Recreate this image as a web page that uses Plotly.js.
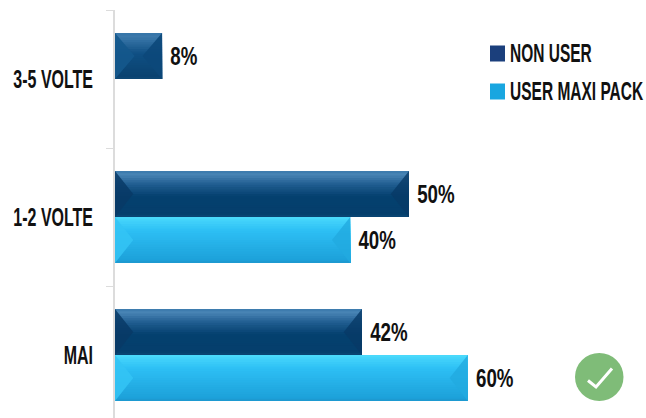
<!DOCTYPE html>
<html>
<head>
<meta charset="utf-8">
<script src="https://cdn.plot.ly/plotly-3.0.1.min.js"></script>
<style>html,body{margin:0;padding:0;background:#fff}#chart{width:646px;height:418px}</style>
</head>
<body>
<div id="chart"></div>
<script>
const categories = ['MAI', '1-2 VOLTE', '3-5 VOLTE'];
const nonUser = [42, 50, 8];
const userMaxiPack = [60, 40, null];
const seriesNames = ['NON USER', 'USER MAXI PACK'];

const W = 646, H = 418;
const M = {l: 115, r: 0, t: 10, b: 0};
const LABEL_FONT = {family: '"Liberation Sans", Arial, sans-serif', size: 25, weight: 700, color: '#111111'};
const VALUE_FONT = {family: '"Liberation Sans", Arial, sans-serif', size: 26, weight: 700, color: '#111111'};
// Horizontal squeezes that give the bold labels their condensed look
const SQUEEZE_AXIS = 0.64, SQUEEZE_LEGEND = 0.62, SQUEEZE_VALUE = 0.72;

// Pixel position to plot-area fraction, for the legend and the badge
const px = x => (x - M.l) / (W - M.l - M.r);
const py = y => 1 - (y - M.t) / (H - M.t - M.b);

const hexToRgb = h => [1, 3, 5].map(i => parseInt(h.slice(i, i + 2), 16));
function ramp(stops, t) {
  for (let i = 1; i < stops.length; i++) {
    if (t <= stops[i][0]) {
      const f = (t - stops[i - 1][0]) / (stops[i][0] - stops[i - 1][0]);
      const a = hexToRgb(stops[i - 1][1]), b = hexToRgb(stops[i][1]);
      return 'rgb(' + a.map((v, k) => Math.round(v + (b[k] - v) * f)).join(',') + ')';
    }
  }
  return stops[stops.length - 1][1];
}

const darkBevel = {
  stops: [[0, '#2f6fa3'], [0.05, '#4c88b8'], [0.3, '#1f5c8f'], [0.55, '#04406f'], [0.97, '#053f6c'], [1, '#1c5e8e']],
  left: 'rgba(8,58,102,0.85)', right: 'rgba(8,58,102,0.8)'
};
const compactBevel = {
  stops: [[0, '#2f6fa3'], [0.05, '#3f7cae'], [0.45, '#0f4f83'], [0.97, '#0a416e'], [1, '#1c5e8e']],
  left: 'rgba(20,88,140,0.9)', right: 'rgba(12,72,122,0.9)'
};
const lightBevel = {
  stops: [[0, '#4fdcfb'], [0.05, '#45d5fb'], [0.3, '#2dbff4'], [0.97, '#1c9fd8'], [1, '#1f7fae']],
  left: 'rgba(52,196,245,0.85)', right: 'rgba(34,170,224,0.8)'
};

// Bevelled face of one bar, built from its value and category slot in axis units
function bevelShapes(value, catIndex, slot, look) {
  if (value === null) return [];
  const barH = 1 / 3;
  const top = catIndex + (slot === 'upper' ? barH : 0);
  const bottom = top - barH;
  const mid = (top + bottom) / 2;
  const depth = value < 10 ? value / 2.4 : 3.1;
  const out = [];
  const bands = 20;
  for (let i = 0; i < bands; i++) {
    out.push({
      type: 'rect', xref: 'x', yref: 'y', layer: 'above',
      x0: 0, x1: value, y0: top - (top - bottom) * i / bands, y1: bottom,
      fillcolor: ramp(look.stops, (i + 0.5) / bands), line: {width: 0}
    });
  }
  const poly = (pts, fill) => ({
    type: 'path', xref: 'x', yref: 'y', layer: 'above', fillcolor: fill, line: {width: 0},
    path: 'M' + pts.map(p => p[0] + ',' + p[1]).join('L') + 'Z'
  });
  out.push(poly([[0, top], [depth, mid], [0, bottom]], look.left));
  out.push(poly([[value, top], [value - depth, mid], [value, bottom]], look.right));
  return out;
}

const shapes = [];
categories.forEach((c, i) => {
  shapes.push(...bevelShapes(nonUser[i], i, 'upper', nonUser[i] < 10 ? compactBevel : darkBevel));
  shapes.push(...bevelShapes(userMaxiPack[i], i, 'lower', lightBevel));
});

// Legend swatches
const legendColors = ['#1b3f7c', '#19a6e0'];
const legendRows = [53.5, 91.5];
legendRows.forEach((y, i) => {
  shapes.push({type: 'rect', xref: 'paper', yref: 'paper', x0: px(490), x1: px(505), y0: py(y - 8), y1: py(y + 8),
    fillcolor: legendColors[i], line: {width: 0}});
});

// Green check badge
shapes.push({type: 'circle', xref: 'paper', yref: 'paper', x0: px(575), x1: px(623.5), y0: py(353), y1: py(401),
  fillcolor: '#7fbc78', line: {width: 0}});
shapes.push({type: 'path', xref: 'paper', yref: 'paper', fillcolor: 'rgba(0,0,0,0)',
  line: {color: '#ffffff', width: 3},
  path: 'M' + px(588) + ',' + py(380.5) + 'L' + px(596) + ',' + py(387) + 'L' + px(612) + ',' + py(368.5)});

const annotations = seriesNames.map((name, i) => ({
  xref: 'paper', yref: 'paper', x: px(510), y: py(legendRows[i]), xanchor: 'left', yanchor: 'middle',
  xshift: -2, text: name, showarrow: false, font: LABEL_FONT
}));

const pct = v => v === null ? '' : '\u00a0' + v + '%';
const traces = [
  {type: 'bar', orientation: 'h', name: seriesNames[1], y: categories, x: userMaxiPack, marker: {color: legendColors[1]},
   text: userMaxiPack.map(pct), textposition: 'outside', textfont: VALUE_FONT, cliponaxis: false, hoverinfo: 'skip'},
  {type: 'bar', orientation: 'h', name: seriesNames[0], y: categories, x: nonUser, marker: {color: legendColors[0]},
   text: nonUser.map(pct), textposition: 'outside', textfont: VALUE_FONT, cliponaxis: false, hoverinfo: 'skip'}
];

const layout = {
  width: W, height: H, margin: M, paper_bgcolor: '#fff', plot_bgcolor: '#fff',
  barmode: 'group', bargap: 1 / 3, bargroupgap: 0, showlegend: false,
  xaxis: {range: [0, (W - M.l) / 5.88], visible: false, fixedrange: true},
  yaxis: {
    type: 'category', categoryorder: 'array', categoryarray: categories,
    range: [-0.4565, 2.5], showline: true, linecolor: '#dcdcdc', linewidth: 2,
    showgrid: false, zeroline: false, ticks: 'outside', tickson: 'boundaries', ticklen: 7, tickcolor: '#dcdcdc', tickwidth: 1,
    tickfont: LABEL_FONT, ticklabelstandoff: 15, automargin: false, fixedrange: true
  },
  shapes, annotations
};

// Narrow a text horizontally while keeping one of its edges in place
function squeeze(el, edge, factor) {
  const box = el.getBBox();
  const ax = edge === 'right' ? box.x + box.width : box.x;
  const prior = el.getAttribute('transform') || '';
  el.setAttribute('transform', `${prior} translate(${ax} 0) scale(${factor} 1) translate(${-ax} 0)`);
}

Plotly.newPlot('chart', traces, layout, {displayModeBar: false, staticPlot: true}).then(gd => {
  gd.querySelectorAll('.ytick text').forEach(t => squeeze(t, 'right', SQUEEZE_AXIS));
  gd.querySelectorAll('.annotation-text').forEach(t => squeeze(t, 'left', SQUEEZE_LEGEND));
  gd.querySelectorAll('.bartext').forEach(t => squeeze(t, 'left', SQUEEZE_VALUE));
});
</script>
</body>
</html>
